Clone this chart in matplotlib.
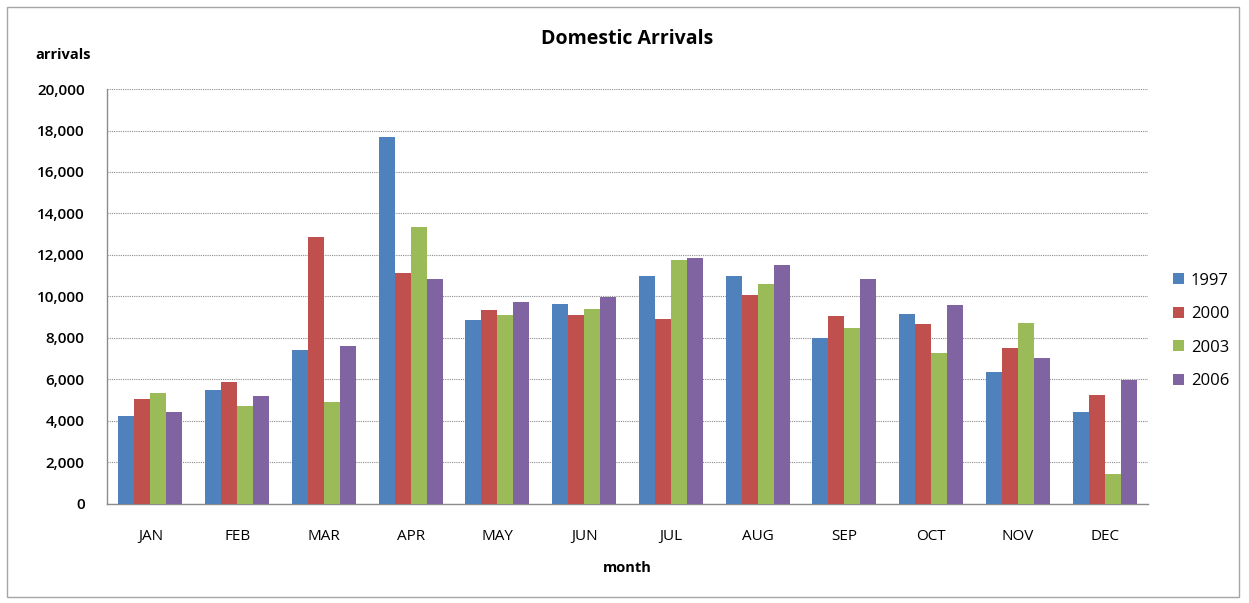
import numpy as np
import matplotlib.pyplot as plt
from matplotlib.patches import Rectangle

plt.rcParams['font.family'] = ['Open Sans', 'DejaVu Sans']

months = ['JAN', 'FEB', 'MAR', 'APR', 'MAY', 'JUN', 'JUL', 'AUG', 'SEP', 'OCT', 'NOV', 'DEC']
years = ['1997', '2000', '2003', '2006']

arr_1997 = [4240, 5490, 7410, 17690, 8870, 9620, 10970, 10970, 8020, 9160, 6380, 4420]
arr_2000 = [5040, 5860, 12850, 11130, 9330, 9110, 8900, 10070, 9060, 8660, 7520, 5250]
arr_2003 = [5330, 4720, 4930, 13350, 9110, 9380, 11740, 10620, 8500, 7260, 8710, 1460]
arr_2006 = [4420, 5190, 7610, 10830, 9740, 9960, 11860, 11500, 10830, 9570, 7050, 5980]

series = [arr_1997, arr_2000, arr_2003, arr_2006]
colors = ['#4F81BD', '#C0504D', '#9BBB59', '#8064A2']

fig = plt.figure(figsize=(12.49, 6.03), dpi=100)
ax = fig.add_axes([0.0857, 0.1642, 0.8334, 0.6882])

# thin frame round the whole chart area
fig.patches.append(Rectangle((0.006, 0.01), 0.986, 0.978, transform=fig.transFigure,
                             fill=False, edgecolor='#A6A6A6', linewidth=1))

x = np.arange(len(months))
w = 0.184
for i, (vals, c, yr) in enumerate(zip(series, colors, years)):
    ax.bar(x + (i - 1.5) * w, vals, width=w, color=c, label=yr, zorder=3)

ax.set_xlim(-0.5, 11.5)
ax.set_ylim(0, 20000)
ax.set_yticks(np.arange(0, 20001, 2000))
ax.set_yticklabels([f'{v:,}' for v in range(0, 20001, 2000)], fontsize=11, fontweight='semibold')
ax.set_xticks(x)
ax.set_xticklabels(months, fontsize=11)
ax.tick_params(axis='x', length=0, pad=18)
ax.tick_params(axis='y', length=0, pad=16)

ax.yaxis.grid(True, linestyle=(0, (1, 1)), color='#8C8C8C', linewidth=0.8, zorder=0)
for s in ['top', 'right']:
    ax.spines[s].set_visible(False)
for s in ['left', 'bottom']:
    ax.spines[s].set_color('#8C8C8C')
    ax.spines[s].set_linewidth(1)

fig.text(0.502, 0.936, 'Domestic Arrivals', ha='center', va='center', fontsize=14, fontweight='bold')
fig.text(0.028, 0.909, 'arrivals', ha='left', va='center', fontsize=10.5, fontweight='bold')
fig.text(0.502, 0.058, 'month', ha='center', va='center', fontsize=10.5, fontweight='bold')

ax.legend(loc='center left', bbox_to_anchor=(1.01, 0.417), frameon=False, fontsize=12,
          handlelength=0.65, handleheight=0.65, handletextpad=0.4, labelspacing=1.05)

fig.savefig('out.png', dpi=100)
